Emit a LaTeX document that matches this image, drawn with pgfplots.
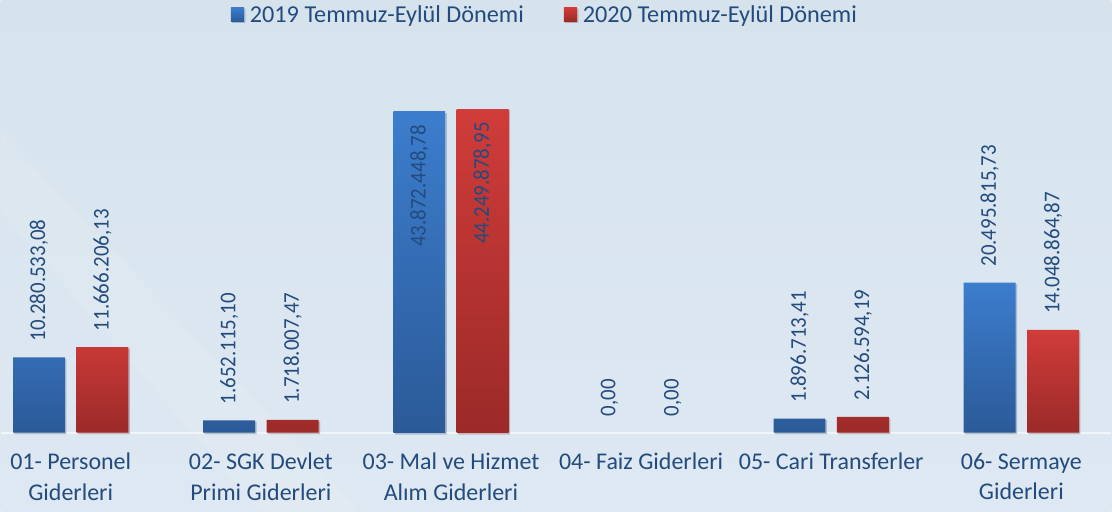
\documentclass[border=0pt]{standalone}
\usepackage{pgfplots}
\pgfplotsset{compat=1.18}
\usetikzlibrary{shadows}
\usepackage{fontspec}
\setmainfont{Carlito}
\newfontfamily\labfont[FakeStretch=0.93]{Carlito}
\definecolor{txt}{RGB}{35,75,125}
\definecolor{bgtop}{RGB}{214,227,237}
\definecolor{bgbot}{RGB}{222,232,242}
\definecolor{btop}{RGB}{60,125,205}
\definecolor{bbot}{RGB}{43,90,152}
\definecolor{rtop}{RGB}{208,60,58}
\definecolor{rbot}{RGB}{155,42,40}
\tikzset{
  shd/.style={drop shadow={shadow xshift=1.5pt, shadow yshift=-1.5pt, opacity=0.18, fill=black!70}},
  bbar/.style={top color=btop, bottom color=bbot, draw=none, bar shift=-31.75pt},
  rbar/.style={top color=rtop, bottom color=rbot, draw=none, bar shift=31.75pt},
}
\begin{document}
\begin{tikzpicture}
\shade[top color=bgtop, bottom color=bgbot] (0,0) rectangle (1112pt,512pt);
\fill[white, opacity=0.10] (0,380pt) -- (0,300pt) -- (260pt,0) -- (360pt,0) -- cycle;
\draw[white!55!bgbot, line width=1.5pt] (0,78.5pt) -- (1112pt,78.5pt);
\begin{axis}[
  scale only axis, width=1112pt, height=512pt,
  xmin=-0.368, xmax=5.473, ymin=-10.79, ymax=59.15,
  axis line style={draw=none}, ytick=\empty,
  xtick={0,1,2,3,4,5},
  xticklabels={{01- Personel\\Giderleri},{02- SGK Devlet\\Primi Giderleri},{03- Mal ve Hizmet\\Alım Giderleri},{04- Faiz Giderleri},{05- Cari Transferler},{06- Sermaye\\Giderleri}},
  major tick length=0pt,
  xticklabel style={align=center, font=\fontsize{24}{30.5}\selectfont, text=txt, yshift=62pt},
  ybar, bar width=52pt,
  clip=false,
  point meta=explicit symbolic,
  nodes near coords,
  nodes near coords style={font=\labfont\fontsize{22.5}{24}\selectfont, text=txt, inner sep=0pt, yshift=16pt, rotate=90, anchor=west},
  legend style={at={(0.49,1)}, anchor=north, draw=none, fill=none, legend columns=2, font=\fontsize{24.3}{28}\selectfont, text=txt, yshift=-1pt, /tikz/every even column/.append style={column sep=38pt}},
  legend image code/.code={\path (0pt,0pt) -- (17pt,0pt); \path[#1, draw=none] (0pt,-7pt) rectangle (13pt,7pt);},
]
\addplot[bbar, shd] table[meta=lab] {
x y lab
0 10.28053308 10.280.533,08
1 1.65211510 1.652.115,10
4 1.89671341 1.896.713,41
5 20.49581573 20.495.815,73
};
\addlegendentry{2019 Temmuz-Eylül Dönemi}
\addplot[rbar, shd] table[meta=lab] {
x y lab
0 11.66620613 11.666.206,13
1 1.71800747 1.718.007,47
4 2.12659419 2.126.594,19
5 14.04886487 14.048.864,87
};
\addlegendentry{2020 Temmuz-Eylül Dönemi}
\addplot[forget plot, bbar, shd, nodes near coords style={xshift=-29pt, anchor=east}] table[meta=lab] {
x y lab
2 43.87244878 43.872.448,78
};
\addplot[forget plot, rbar, shd, nodes near coords style={xshift=-29pt, anchor=east}] table[meta=lab] {
x y lab
2 44.24987895 44.249.878,95
};
\addplot[forget plot, draw=none, fill=none, bar shift=-31.75pt] table[meta=lab] {
x y lab
3 0 0,00
};
\addplot[forget plot, draw=none, fill=none, bar shift=31.75pt] table[meta=lab] {
x y lab
3 0 0,00
};
\end{axis}
\end{tikzpicture}
\end{document}
